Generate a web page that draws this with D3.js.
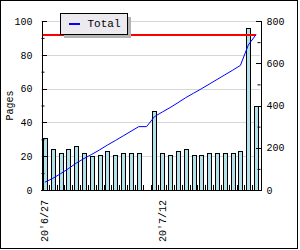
<!DOCTYPE html>
<html>
<head>
<meta charset="utf-8">
<script src="https://cdn.jsdelivr.net/npm/d3@7"></script>
<style>
  html, body { margin: 0; padding: 0; background: #fff; }
  svg { display: block; font-family: "Liberation Mono", "DejaVu Sans Mono", monospace; font-size: 10px; }
</style>
</head>
<body>
<div id="chart"></div>
<script>
// daily categories, 20'6/27 .. 20'7/24
const days = ["6/27", "6/28", "6/29", "6/30", "7/1", "7/2", "7/3", "7/4", "7/5", "7/6",
  "7/7", "7/8", "7/9", "7/10", "7/11", "7/12", "7/13", "7/14", "7/15", "7/16",
  "7/17", "7/18", "7/19", "7/20", "7/21", "7/22", "7/23", "7/24"];
const labeledDays = ["6/27", "7/12"];

// pages per day (left axis), null = no bar
const pages = [31, 24, 22, 24, 26, 22, 20, 21, 23, 21, 22, 22, 22, null, 47, 22,
  21, 23, 24, 21, 21, 22, 22, 22, 22, 23, 96, 50];

// running total (right axis)
const total = [37, 55, 77, 101, 127, 149, 169, 190, 213, 234, 256, 278, 300, 300,
  347, 369, 390, 413, 437, 458, 479, 501, 523, 545, 567, 590, 686, 736];

// red reference line (left axis)
const target = 92;

const leftTicks = [0, 20, 40, 60, 80, 100];
const leftMinor = [10, 30, 50, 70, 90];
const rightTicks = [0, 200, 400, 600, 800];
const rightMinor = [100, 300, 500, 700];

const W = 300, H = 250;
const plot = { left: 41, right: 260, top: 21, bottom: 190 };
const font = "Liberation Mono, DejaVu Sans Mono, monospace";

const svg = d3.select("#chart").append("svg")
  .attr("width", W)
  .attr("height", H);

// outer frame
svg.append("rect")
  .attr("x", 0.5).attr("y", 0.5)
  .attr("width", 297).attr("height", 248)
  .attr("fill", "#fff")
  .attr("stroke", "#000");

const x = d3.scaleBand()
  .domain(days)
  .range([plot.left, plot.right]);

const yL = d3.scaleLinear().domain([0, 100]).range([plot.bottom, plot.top]);
const yR = d3.scaleLinear().domain([0, 800]).range([plot.bottom, plot.top]);

// grid
svg.append("g")
  .selectAll("line")
  .data(leftTicks.filter(d => d > 0))
  .join("line")
  .attr("x1", plot.left).attr("x2", plot.right)
  .attr("y1", d => Math.round(yL(d)) + 0.5)
  .attr("y2", d => Math.round(yL(d)) + 0.5)
  .attr("stroke", "#d6d6d6")
  .attr("shape-rendering", "crispEdges");

// bars
const barW = 4;
svg.append("g")
  .selectAll("rect")
  .data(days.map((d, i) => ({ day: d, v: pages[i] })).filter(d => d.v != null))
  .join("rect")
  .attr("x", d => Math.round(x(d.day) + x.bandwidth() / 2 - 2) + 0.5)
  .attr("y", d => Math.round(yL(d.v)) + 0.5)
  .attr("width", barW)
  .attr("height", d => Math.round(yL(0)) - Math.round(yL(d.v)))
  .attr("fill", "#b4e2ea")
  .attr("stroke", "#000")
  .attr("shape-rendering", "crispEdges");

// bottom ticks at slot boundaries, pointing up
svg.append("g")
  .selectAll("line")
  .data(days.slice(0, -1))
  .join("line")
  .attr("x1", d => Math.round(x(d) + x.bandwidth()) + 0.5)
  .attr("x2", d => Math.round(x(d) + x.bandwidth()) + 0.5)
  .attr("y1", plot.bottom)
  .attr("y2", plot.bottom - 5)
  .attr("stroke", "#000")
  .attr("shape-rendering", "crispEdges");

// red reference line
svg.append("line")
  .attr("x1", plot.left + 2).attr("x2", plot.right - 4)
  .attr("y1", yL(target)).attr("y2", yL(target))
  .attr("stroke", "#ff0000")
  .attr("stroke-width", 2)
  .attr("shape-rendering", "crispEdges");

// running total line
const line = d3.line()
  .x((d, i) => x(days[i]) + x.bandwidth() / 2)
  .y(d => yR(d));

svg.append("path")
  .datum(total)
  .attr("d", line)
  .attr("fill", "none")
  .attr("stroke", "#0000ff")
  .attr("stroke-width", 1);

// bottom axis line
svg.append("line")
  .attr("x1", plot.left).attr("x2", plot.right)
  .attr("y1", plot.bottom + 0.5).attr("y2", plot.bottom + 0.5)
  .attr("stroke", "#000")
  .attr("shape-rendering", "crispEdges");

// left axis
const gL = svg.append("g")
  .attr("transform", `translate(${plot.left + 0.5},0)`)
  .call(d3.axisLeft(yL).tickValues(leftTicks).tickSize(-5).tickPadding(9));
svg.append("g")
  .attr("transform", `translate(${plot.left + 0.5},0)`)
  .call(d3.axisLeft(yL).tickValues(leftMinor).tickSize(-3).tickFormat(""))
  .call(g => g.select(".domain").remove());

// right axis
const gR = svg.append("g")
  .attr("transform", `translate(${plot.right + 0.5},0)`)
  .call(d3.axisRight(yR).tickValues(rightTicks).tickSize(-5).tickPadding(6));
svg.append("g")
  .attr("transform", `translate(${plot.right + 0.5},0)`)
  .call(d3.axisRight(yR).tickValues(rightMinor).tickSize(-3).tickFormat(""))
  .call(g => g.select(".domain").remove());

[gL, gR].forEach(g => {
  g.selectAll("text")
    .attr("font-family", font)
    .attr("font-size", 10)
    .attr("fill", "#000");
  g.selectAll("line, path").attr("shape-rendering", "crispEdges");
});

// date labels
svg.append("g")
  .selectAll("text")
  .data(labeledDays)
  .join("text")
  .attr("transform", d => `translate(${x(d) + x.bandwidth() / 2},200) rotate(-90)`)
  .attr("text-anchor", "end")
  .attr("dy", "0.35em")
  .text(d => "20'" + d);

// y label
svg.append("text")
  .attr("transform", `translate(9,${(plot.top + plot.bottom) / 2}) rotate(-90)`)
  .attr("text-anchor", "middle")
  .attr("dy", "0.35em")
  .text("Pages");

// legend
const legend = svg.append("g").attr("transform", "translate(60.5,13.5)");
legend.append("rect")
  .attr("x", 3).attr("y", 3)
  .attr("width", 67).attr("height", 21)
  .attr("fill", "#b4b4b4")
  .attr("shape-rendering", "crispEdges");
legend.append("rect")
  .attr("width", 67).attr("height", 21)
  .attr("fill", "#ece9ef")
  .attr("stroke", "#000")
  .attr("shape-rendering", "crispEdges");
legend.append("line")
  .attr("x1", 8).attr("x2", 19)
  .attr("y1", 10).attr("y2", 10)
  .attr("stroke", "#0000ff")
  .attr("stroke-width", 2)
  .attr("shape-rendering", "crispEdges");
legend.append("text")
  .attr("x", 27).attr("y", 10)
  .attr("dy", "0.35em")
  .attr("font-size", 11)
  .text("Total");
</script>
</body>
</html>
